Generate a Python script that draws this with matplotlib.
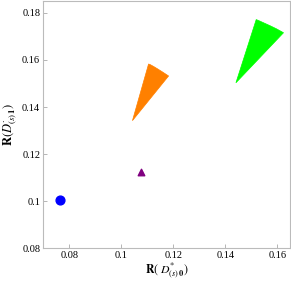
import matplotlib
matplotlib.use("Agg")
import matplotlib.pyplot as plt
from matplotlib.patches import Polygon

plt.rcParams['font.family'] = ['Liberation Serif', 'DejaVu Serif']
plt.rcParams['mathtext.fontset'] = 'stix'

# Data
orange_x = [0.1043, 0.1105, 0.1112, 0.1125, 0.1140, 0.1160, 0.1182]
orange_y = [0.1342, 0.1583, 0.1580, 0.1572, 0.1562, 0.1548, 0.1532]
green_x = [0.1441, 0.1519, 0.1528, 0.1548, 0.1572, 0.1598, 0.1624]
green_y = [0.1503, 0.1772, 0.1768, 0.1758, 0.1746, 0.1732, 0.1716]
blue_x, blue_y = [0.0765], [0.1003]
purple_x, purple_y = [0.1074], [0.1122]

xticks = [0.08, 0.10, 0.12, 0.14, 0.16]
xticklabels = ["0.08", "0.1", "0.12", "0.14", "0.16"]
yticks = [0.08, 0.10, 0.12, 0.14, 0.16, 0.18]
yticklabels = ["0.08", "0.1", "0.12", "0.14", "0.16", "0.18"]

fig = plt.figure(figsize=(2.91, 2.81), dpi=100)
ax = fig.add_axes([0.1478, 0.1174, 0.8488, 0.879])

ax.add_patch(Polygon(list(zip(orange_x, orange_y)), closed=True,
                     facecolor="#ff8000", edgecolor="#ff8000", lw=0.5))
ax.add_patch(Polygon(list(zip(green_x, green_y)), closed=True,
                     facecolor="#00ff00", edgecolor="#00ff00", lw=0.5))
ax.scatter(blue_x, blue_y, s=40, color="#0000ff", marker="o", zorder=3)
ax.scatter(purple_x, purple_y, s=22, color="#800080", marker="^", zorder=3)

ax.set_xlim(0.0699, 0.1649)
ax.set_ylim(0.08, 0.1851)
ax.set_xticks(xticks)
ax.set_xticklabels(xticklabels)
ax.set_yticks(yticks)
ax.set_yticklabels(yticklabels)
ax.tick_params(direction="in", length=3, width=0.6, color="#aaaaaa",
               labelsize=7.5, pad=2, top=False, right=False)
for s in ax.spines.values():
    s.set_color("#bbbbbb")
    s.set_linewidth(0.8)

ax.set_xlabel(r"$\mathbf{R}($ $D^{*}_{(s)\,\mathbf{0}})$", fontsize=8.5, labelpad=1)
ax.set_ylabel(r"$\mathbf{R}(D^{\cdot}_{(s)\,\mathbf{1}})$", fontsize=9, labelpad=2)

fig.savefig("out.png", dpi=100)
